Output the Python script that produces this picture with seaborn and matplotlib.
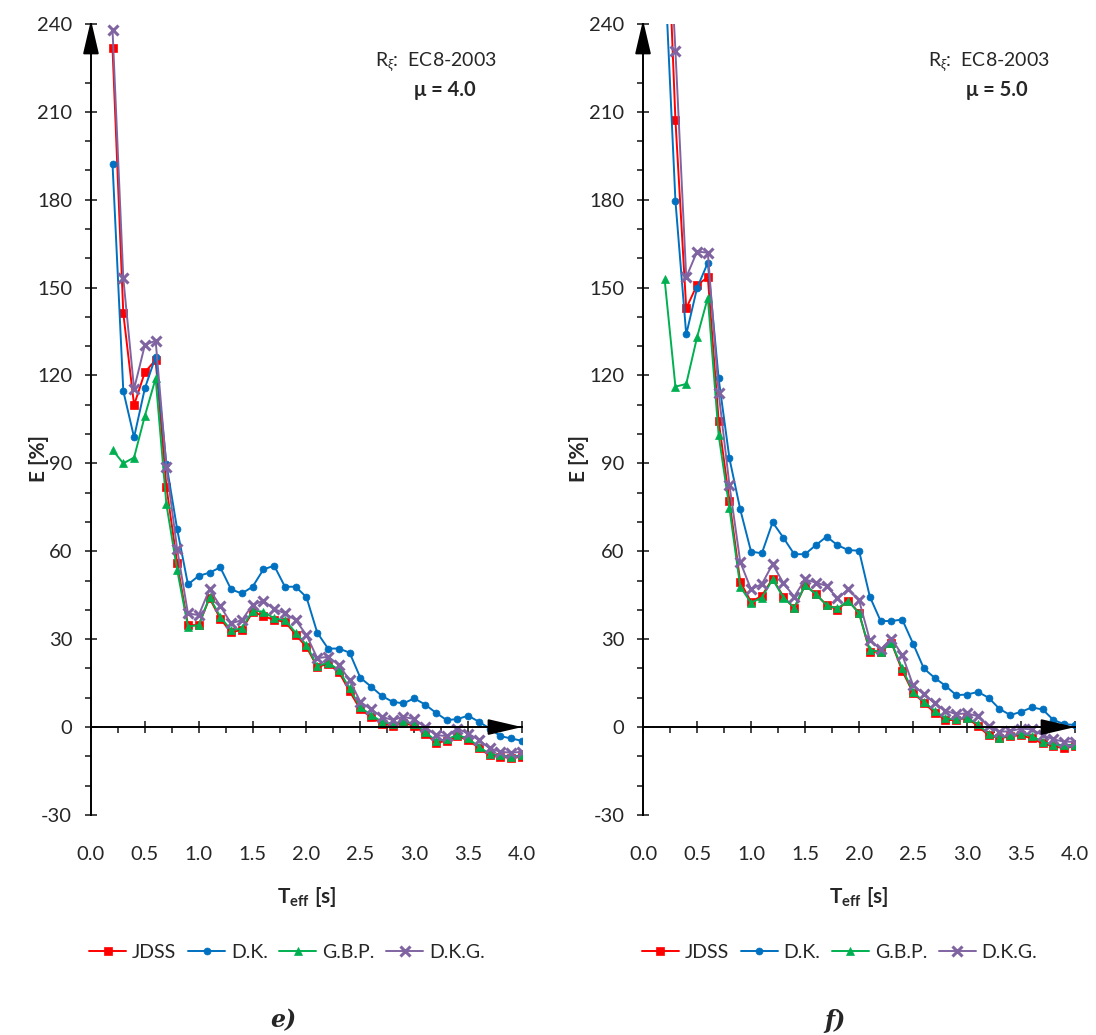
import matplotlib
matplotlib.use("Agg")
import matplotlib.pyplot as plt
import seaborn as sns
from matplotlib.ticker import MultipleLocator

# === data ===
period = [0.2, 0.3, 0.4, 0.5, 0.6, 0.7, 0.8, 0.9, 1.0, 1.1, 1.2, 1.3, 1.4,
          1.5, 1.6, 1.7, 1.8, 1.9, 2.0, 2.1, 2.2, 2.3, 2.4, 2.5, 2.6, 2.7,
          2.8, 2.9, 3.0, 3.1, 3.2, 3.3, 3.4, 3.5, 3.6, 3.7, 3.8, 3.9, 4.0]

# panel e) mu = 4.0
e_jdss = [231.7, 141.2, 109.9, 121.1, 125.3, 82.0, 55.9, 34.8, 34.8, 44.0,
          37.0, 32.3, 33.2, 39.2, 38.0, 36.5, 36.0, 31.5, 27.3, 20.5, 21.6,
          18.8, 12.2, 6.0, 3.4, 1.2, 0.4, 1.4, 0.4, -2.2, -5.3, -4.8, -3.2,
          -4.4, -7.2, -9.7, -10.1, -10.6, -10.1]
e_dk = [192.2, 114.7, 98.9, 115.6, 126.4, 89.8, 67.5, 48.7, 51.6, 52.7,
        54.5, 47.0, 45.6, 47.9, 53.8, 55.1, 47.9, 47.9, 44.3, 32.2, 26.8,
        26.8, 25.4, 16.8, 13.8, 10.6, 8.6, 8.1, 9.8, 7.7, 4.9, 2.4, 2.7,
        3.9, 1.8, -0.5, -3.1, -3.9, -4.7]
e_gbp = [94.6, 90.0, 92.0, 106.2, 119.0, 76.0, 53.6, 34.3, 34.8, 44.3,
         37.7, 33.0, 33.7, 39.7, 39.4, 37.1, 36.5, 32.2, 28.0, 20.8, 22.0,
         19.5, 13.2, 6.7, 4.1, 1.8, 1.0, 2.0, 1.0, -1.6, -4.7, -4.2, -2.7,
         -3.9, -6.7, -9.2, -9.6, -10.1, -9.6]
e_dkg = [238.0, 153.2, 115.4, 130.4, 131.9, 88.7, 60.7, 38.8, 38.2, 47.0,
         41.3, 35.4, 36.5, 41.7, 43.1, 40.3, 38.8, 36.5, 31.4, 23.5, 24.0,
         21.3, 16.0, 8.6, 6.0, 3.5, 2.4, 3.5, 2.7, 0.1, -2.7, -3.1, -0.5,
         -2.2, -4.4, -7.3, -8.4, -8.8, -8.4]

# panel f) mu = 5.0 (first values run off the top of the axis)
f_jdss = [300.0, 207.2, 142.9, 150.9, 153.5, 104.6, 77.2, 49.6, 42.7, 44.8,
          50.7, 44.5, 40.5, 48.4, 45.4, 41.6, 40.1, 43.1, 39.0, 25.7, 25.7,
          28.8, 19.2, 11.7, 8.3, 4.9, 2.4, 2.4, 3.2, 0.3, -2.8, -3.9, -3.1,
          -2.8, -3.9, -5.6, -6.5, -7.3, -6.5]
f_dk = [260.0, 179.6, 134.0, 149.8, 158.5, 119.0, 91.7, 74.3, 59.9, 59.3,
        69.9, 64.6, 59.0, 59.0, 62.1, 65.0, 62.1, 60.4, 60.2, 44.5, 36.2,
        36.2, 36.7, 28.5, 20.0, 16.8, 14.1, 10.9, 11.1, 12.0, 10.0, 6.2,
        4.1, 5.2, 6.7, 6.0, 2.4, 1.0, 0.7]
f_gbp = [152.8, 116.2, 117.1, 133.0, 146.6, 99.7, 74.7, 47.9, 42.4, 44.2,
         50.4, 44.2, 40.8, 48.4, 45.4, 41.6, 40.5, 43.1, 38.8, 26.3, 25.7,
         28.8, 20.0, 12.0, 8.6, 5.6, 3.0, 2.6, 3.2, 1.0, -2.4, -3.7, -2.8,
         -2.2, -3.1, -5.0, -6.1, -6.1, -6.1]
f_dkg = [300.0, 230.9, 153.5, 162.3, 161.9, 114.1, 82.6, 56.4, 47.0, 48.8,
         55.6, 49.1, 44.5, 50.4, 49.3, 48.2, 43.9, 47.0, 43.3, 29.7, 26.5,
         30.2, 24.6, 14.3, 11.3, 8.1, 5.6, 4.4, 4.7, 3.7, 0.3, -1.6, -1.4,
         -0.5, -0.8, -2.8, -4.2, -5.0, -5.0]

names = ["JDSS", "D.K.", "G.B.P.", "D.K.G."]
x_ticks = [0.0, 0.5, 1.0, 1.5, 2.0, 2.5, 3.0, 3.5, 4.0]

# === style ===
sns.set_style("white")
plt.rcParams["font.family"] = ["Lato", "DejaVu Sans"]
plt.rcParams["axes.unicode_minus"] = False
plt.rcParams["mathtext.fontset"] = "custom"
plt.rcParams["mathtext.rm"] = "Lato"
plt.rcParams["mathtext.it"] = "Lato:italic"
plt.rcParams["mathtext.bf"] = "Lato:bold"
plt.rcParams["mathtext.fallback"] = "stixsans"

colors = {"JDSS": "#FF0000", "D.K.": "#0070C0", "G.B.P.": "#00B050", "D.K.G.": "#8064A2"}
markers = {"JDSS": "s", "D.K.": "o", "G.B.P.": "^", "D.K.G.": "x"}
msizes = {"JDSS": 5.5, "D.K.": 5, "G.B.P.": 6, "D.K.G.": 7}
mews = {"JDSS": 0.5, "D.K.": 0.5, "G.B.P.": 0.5, "D.K.G.": 2.2}

fig = plt.figure(figsize=(10.96, 10.35), dpi=100)
ax_e = fig.add_axes([0.0830, 0.2126, 0.3933, 0.7643])
ax_f = fig.add_axes([0.5867, 0.2126, 0.3942, 0.7643])

arrow_style = dict(arrowstyle="-|>,head_length=1.5,head_width=0.35",
                   color="black", lw=1.4, mutation_scale=14, shrinkA=0, shrinkB=0)


def draw_panel(ax, series, mu, tag, ylab_x):
    for name, vals in zip(names, series):
        sns.lineplot(x=period, y=vals, ax=ax, estimator=None, sort=False,
                     color=colors[name], marker=markers[name], markersize=msizes[name],
                     markeredgecolor=colors[name], markeredgewidth=mews[name],
                     linewidth=1.4, label=name)

    ax.set_xlim(0, 4.0)
    ax.set_ylim(-30, 240)
    ax.yaxis.set_major_locator(MultipleLocator(30))
    ax.yaxis.set_minor_locator(MultipleLocator(10))
    ax.xaxis.set_major_locator(MultipleLocator(0.5))
    ax.xaxis.set_minor_locator(MultipleLocator(0.25))

    for s in ["top", "right"]:
        ax.spines[s].set_visible(False)
    ax.spines["bottom"].set_position(("data", 0))
    for s in ["left", "bottom"]:
        ax.spines[s].set_linewidth(1.4)
        ax.spines[s].set_color("black")

    ax.tick_params(axis="y", which="major", direction="inout", length=9, width=1.2,
                   labelsize=14.5, pad=9, left=True)
    ax.tick_params(axis="y", which="minor", direction="out", length=4.5, width=1.2, left=True)
    ax.tick_params(axis="x", which="major", direction="inout", length=9, width=1.2,
                   labelbottom=False, bottom=True)
    ax.tick_params(axis="x", which="minor", direction="out", length=4.5, width=1.2, bottom=True)

    # x tick labels sit at the bottom of the plot, not on the zero line
    sec = ax.secondary_xaxis(0)
    sec.set_xticks(x_ticks, [f"{v:.1f}" for v in x_ticks])
    sec.tick_params(length=0, pad=22, labelsize=14.5)
    for s in sec.spines.values():
        s.set_visible(False)
    sec.set_xlabel(r"$\mathbf{T}_{\mathbf{eff}}\ \mathbf{[s]}$", fontsize=15, labelpad=16)

    ax.set_ylabel("E [%]", fontsize=15, fontweight="bold")
    ax.yaxis.set_label_coords(ylab_x, 0.45)

    # axis arrows
    ax.annotate("", xy=(1, 0), xycoords=ax.get_yaxis_transform(),
                xytext=(-26, 0), textcoords="offset pixels", arrowprops=arrow_style)
    ax.annotate("", xy=(0, 1.005), xycoords=ax.get_xaxis_transform(),
                xytext=(0, -24), textcoords="offset pixels", arrowprops=arrow_style)

    ax.text(0.80, 0.952, r"R$_{\xi}$:  EC8-2003", transform=ax.transAxes,
            ha="center", va="center", fontsize=14)
    ax.text(0.82, 0.916, f"μ = {mu}", transform=ax.transAxes,
            ha="center", va="center", fontsize=14.5, fontweight="bold")

    ax.legend(loc="center", bbox_to_anchor=(0.455, -0.174), ncol=4, frameon=False,
              fontsize=14, handlelength=1.9, handletextpad=0.3, columnspacing=0.6)

    ax.text(0.445, -0.26, tag, transform=ax.transAxes, ha="center", va="center",
            fontsize=17, fontweight="bold", fontstyle="italic", family="DejaVu Serif")


draw_panel(ax_e, [e_jdss, e_dk, e_gbp, e_dkg], "4.0", "e)", -0.097)
draw_panel(ax_f, [f_jdss, f_dk, f_gbp, f_dkg], "5.0", "f)", -0.125)

fig.savefig("out.png", dpi=100)
